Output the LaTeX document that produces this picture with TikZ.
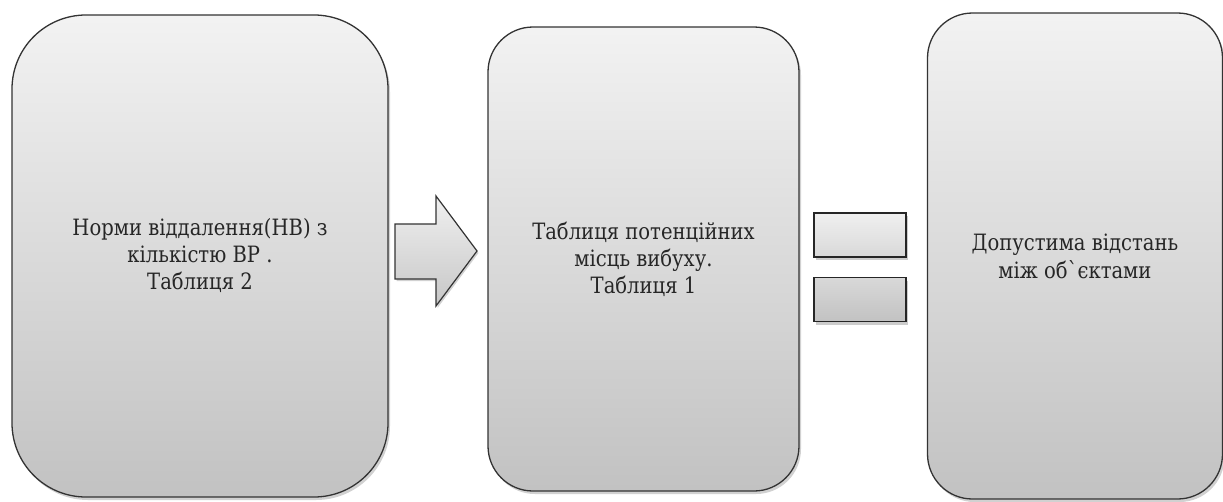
\documentclass[tikz,border=0pt]{standalone}
\usepackage{fontspec}
\setmainfont{DejaVu Serif}
\newfontfamily\timesfont[FakeStretch=0.87]{DejaVu Serif}
\usetikzlibrary{shadows}
\tikzset{
  panel/.style={draw=black!80, line width=1.3pt, top color=black!5, bottom color=black!24,
    align=center, inner sep=0pt, text=black!85,
    font=\timesfont\fontsize{22.5}{27}\selectfont,
    drop shadow={shadow xshift=2pt, shadow yshift=-3pt, opacity=0.18, fill=black}},
  eqbar/.style={draw=black!85, line width=1.5pt, inner sep=0pt,
    minimum width=92pt, minimum height=44pt,
    drop shadow={shadow xshift=1.5pt, shadow yshift=-3pt, opacity=0.2, fill=black}},
  arrowshape/.style={draw=black!80, line width=1.2pt, top color=black!6, bottom color=black!22,
    drop shadow={shadow xshift=1.5pt, shadow yshift=-2pt, opacity=0.18, fill=black}}
}
\begin{document}
\begin{tikzpicture}[x=1pt,y=-1pt]
\useasboundingbox (0,0) rectangle (1223,501);
\node[panel, rounded corners=74pt, minimum width=376pt, minimum height=482pt] (b1) at (200,256)
  {Норми віддалення(НВ) з\\кількістю ВР .\\Таблиця 2};
\node[panel, rounded corners=45pt, minimum width=311pt, minimum height=464pt] (b2) at (643.5,259)
  {Таблиця потенційних\\місць вибуху.\\Таблиця 1};
\node[panel, rounded corners=45pt, minimum width=295pt, minimum height=486pt] (b3) at (1075,256)
  {Допустима відстань\\[1pt]між об\char"02CB єктами};
\draw[arrowshape] (395,224) -- (436,224) -- (436,196) -- (477,251) -- (436,306) -- (436,279) -- (395,279) -- cycle;
\node[eqbar, top color=black!6, bottom color=black!15] (e1) at (860,235) {};
\node[eqbar, top color=black!15, bottom color=black!24] (e2) at (860,299.5) {};
\end{tikzpicture}
\end{document}
